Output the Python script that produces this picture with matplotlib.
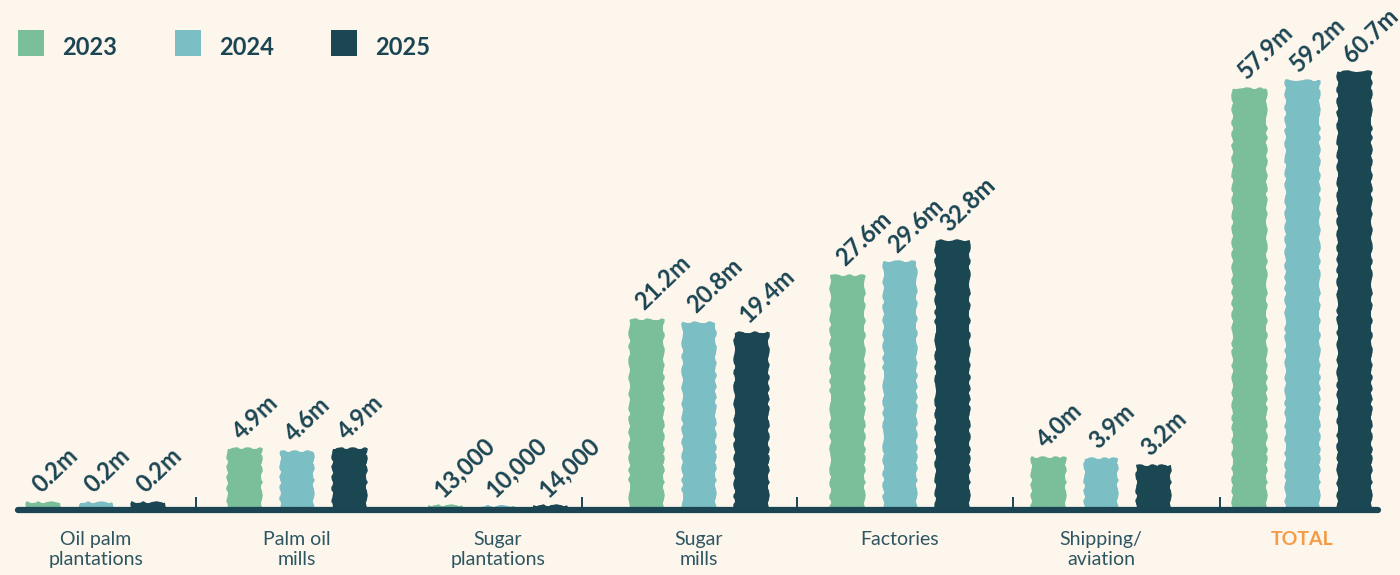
import numpy as np
import matplotlib
matplotlib.use("Agg")
import matplotlib.pyplot as plt
from matplotlib.patches import Rectangle

# Worker counts (millions) by sector and year
categories = ["Oil palm\nplantations", "Palm oil\nmills", "Sugar\nplantations",
              "Sugar\nmills", "Factories", "Shipping/\naviation", "TOTAL"]
years = ["2023", "2024", "2025"]
values_2023 = [0.2, 4.9, 0.013, 21.2, 27.6, 4.0, 57.9]
values_2024 = [0.2, 4.6, 0.010, 20.8, 29.6, 3.9, 59.2]
values_2025 = [0.2, 4.9, 0.014, 19.4, 32.8, 3.2, 60.7]
series = [values_2023, values_2024, values_2025]

colors = ["#7bbf9a", "#7bbfc5", "#1b4753"]
bg = "#fdf6ec"
ink = "#1b4553"
label_ink = "#2d5662"
total_color = "#f59a45"

# small dividers along the baseline
divider_x = [0.5, 2.42, 3.49, 4.56, 5.59]


def fmt(v):
    if v < 0.1:
        return f"{v * 1e6:,.0f}"
    return f"{v:.1f}m"


plt.rcParams["font.family"] = ["Lato", "DejaVu Sans"]

fig = plt.figure(figsize=(14, 5.75), dpi=100, facecolor=bg)
ax = fig.add_axes([18 / 1400, 68 / 575, 1360 / 1400, 1 - 68 / 575])
ax.set_facecolor(bg)

power = 0.8
ax.set_yscale("function",
              functions=(lambda v: np.sign(v) * np.abs(v) ** power,
                         lambda v: np.sign(v) * np.abs(v) ** (1 / power)))

x = np.arange(len(categories))
offsets = [-0.26, 0.0, 0.26]
width = 0.164

for vals, col, off in zip(series, colors, offsets):
    bars = ax.bar(x + off, vals, width=width, color=col, edgecolor=col,
                  linewidth=1.2, zorder=2)
    for b in bars:
        b.set_sketch_params(scale=0.9, length=16, randomness=0.3)
    for xi, v in zip(x, vals):
        ax.annotate(fmt(v), xy=(xi + off - width / 2, v), xytext=(12, 4),
                    textcoords="offset points", rotation=44,
                    rotation_mode="anchor", ha="left", va="bottom",
                    fontsize=17, fontweight="bold", color=ink, zorder=3)

ax.set_xlim(-0.388, 6.378)
ax.set_ylim(0, 73.6)

for s in ["top", "right", "left"]:
    ax.spines[s].set_visible(False)
ax.spines["bottom"].set_position(("outward", 2.2))
ax.spines["bottom"].set_linewidth(4.5)
ax.spines["bottom"].set_color(ink)
ax.spines["bottom"].set_capstyle("round")
ax.set_yticks([])
ax.set_xticks(x)
ax.set_xticklabels(categories, fontsize=14, color=label_ink, linespacing=1.2)
ax.tick_params(axis="x", length=0, pad=15)
last = ax.get_xticklabels()[-1]
last.set_color(total_color)
last.set_fontweight("bold")

ax.vlines(divider_x, 0, 0.02, transform=ax.get_xaxis_transform(),
          color=ink, linewidth=1.4, zorder=1)

# legend swatches
for i, (yr, col) in enumerate(zip(years, colors)):
    x0 = [18, 175, 331][i]
    fig.add_artist(Rectangle((x0 / 1400, 1 - 56 / 575), 26 / 1400, 26 / 575,
                             transform=fig.transFigure, color=col, lw=0))
    fig.text((x0 + 44) / 1400, 1 - 55 / 575, yr, fontsize=17,
             fontweight="bold", color=ink, va="baseline", ha="left")

fig.savefig("out.png", dpi=100, facecolor=bg)
